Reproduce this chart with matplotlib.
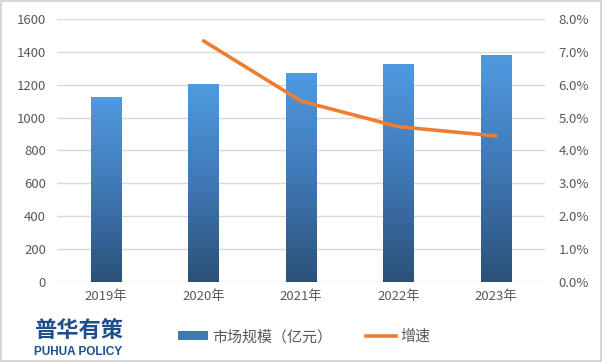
import matplotlib
matplotlib.use("Agg")
import matplotlib.pyplot as plt
import numpy as np
from matplotlib.colors import LinearSegmentedColormap
from matplotlib.patches import Rectangle
from matplotlib.lines import Line2D

plt.rcParams['font.family'] = ['Noto Sans CJK SC', 'DejaVu Sans']

years = ["2019年", "2020年", "2021年", "2022年", "2023年"]
market = [1122, 1198, 1266, 1324, 1380]
growth_years = ["2020年", "2021年", "2022年", "2023年"]
growth = [7.33, 5.50, 4.72, 4.44]
left_ticks = [0, 200, 400, 600, 800, 1000, 1200, 1400, 1600]
right_ticks = [0, 1, 2, 3, 4, 5, 6, 7, 8]

fig = plt.figure(figsize=(6.02, 3.62), dpi=100)
ax = fig.add_axes([0.095, 0.221, 0.81, 0.727])
x = np.arange(len(years))

cmap = LinearSegmentedColormap.from_list("g", ["#2b5179", "#3f78b5", "#4f9ae0"])
bars = ax.bar(x, market, width=0.31, color="none", zorder=2)
grad = np.linspace(0, 1, 256).reshape(-1, 1)
for b in bars:
    x0, y0 = b.get_x(), b.get_y()
    w, h = b.get_width(), b.get_height()
    ax.imshow(grad, cmap=cmap, origin="lower", aspect="auto",
              extent=[x0, x0 + w, y0, y0 + h], zorder=2)
ax.set_xlim(-0.5, len(years) - 0.5)
ax.set_ylim(0, 1600)
ax.set_yticks(left_ticks)
ax.set_xticks(x)
ax.set_xticklabels(years)
ax.grid(axis="y", color="#d9d9d9", linewidth=1, zorder=0)
ax.set_axisbelow(True)
for s in ax.spines.values():
    s.set_visible(False)
ax.tick_params(length=0, colors="#595959", labelsize=9.5, pad=8)
ax.tick_params(axis="x", pad=6)

ax2 = ax.twinx()
gx = [years.index(g) for g in growth_years]
ax2.plot(gx, growth, color="#ED7D31", linewidth=2.6, zorder=3, solid_capstyle="round")
ax2.set_ylim(0, 8)
ax2.set_yticks(right_ticks)
ax2.set_yticklabels([f"{t:.1f}%" for t in right_ticks])
for s in ax2.spines.values():
    s.set_visible(False)
ax2.tick_params(length=0, colors="#595959", labelsize=9.5, pad=10)

# legend
handles = [Rectangle((0, 0), 1, 1, facecolor="#3f78b5", edgecolor="none"),
           Line2D([], [], color="#ED7D31", linewidth=2.6)]
fig.legend(handles, ["市场规模（亿元）", "增速"], loc="center", bbox_to_anchor=(0.505, 0.069),
           ncol=2, frameon=False, fontsize=10.8, labelcolor="#595959",
           handlelength=2.0, handleheight=0.55, columnspacing=2.2, handletextpad=0.3)

# logo
fig.text(0.056, 0.087, "普华有策", fontsize=16, fontweight="bold", color="#1e4e8c", va="center")
fig.text(0.057, 0.027, "PUHUA POLICY", fontsize=8.5, fontweight="bold", color="#1e4e8c",
         va="center", family=["Liberation Sans Narrow", "Liberation Sans", "DejaVu Sans"])

fig.patches.append(Rectangle((0.001, 0.002), 0.997, 0.995, transform=fig.transFigure,
                             fill=False, edgecolor="#d0d0d0", linewidth=1.2))
fig.savefig("out.png", dpi=100, facecolor="white")
